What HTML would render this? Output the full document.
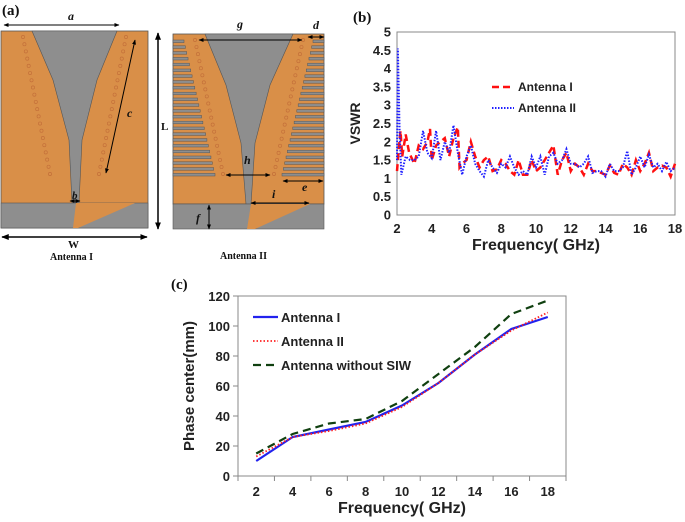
<!DOCTYPE html>
<html><head><meta charset="utf-8"><style>
body{margin:0;background:#fff;width:685px;height:522px;overflow:hidden}
svg{display:block}
.t{font-family:"Liberation Sans",sans-serif;font-weight:bold;fill:#222}
.s{font-family:"Liberation Serif",serif;font-weight:bold;fill:#111}
</style></head><body>
<svg id="svg" width="685" height="522" xmlns="http://www.w3.org/2000/svg">
<defs><marker id="ar" viewBox="0 0 10 10" refX="9" refY="5" markerWidth="5" markerHeight="5" orient="auto-start-reverse"><path d="M0,1L10,5L0,9z" fill="#000"/></marker></defs>
<g id="panelA">
<text class="s" x="2" y="15" font-size="15">(a)</text>
<g>
<rect x="1" y="31" width="147" height="197" fill="#d98f48" stroke="#555" stroke-width="0.8"/>
<polygon points="32,31 117,31 97,80 82,140 79,203 72,203 69,140 53,80" fill="#8e8e8e" stroke="#555" stroke-width="0.6"/>
<rect x="1" y="203" width="147" height="25" fill="#8e8e8e" stroke="#555" stroke-width="0.6"/>
<polygon points="76,203 135,203 78,228 73,228" fill="#d98f48"/>
<g id="viasI"></g>
<line x1="4" y1="25" x2="119" y2="25" stroke="#000" marker-start="url(#ar)" marker-end="url(#ar)"/>
<line x1="135" y1="40" x2="106" y2="173" stroke="#000" marker-start="url(#ar)" marker-end="url(#ar)"/>
<line x1="158" y1="33" x2="158" y2="229" stroke="#000" stroke-width="1.5" marker-start="url(#ar)" marker-end="url(#ar)"/>
<line x1="2" y1="237" x2="147" y2="237" stroke="#000" stroke-width="1.5" marker-start="url(#ar)" marker-end="url(#ar)"/>
<line x1="70" y1="201" x2="80" y2="201" stroke="#000" marker-start="url(#ar)" marker-end="url(#ar)"/>
<text class="s" x="68" y="20" font-size="12" font-style="italic">a</text>
<text class="s" x="127" y="117" font-size="12" font-style="italic">c</text>
<text class="s" x="72" y="199" font-size="11" font-style="italic">b</text>
<text class="s" x="161" y="130" font-size="11" font-weight="normal">L</text>
<text class="s" x="68" y="248" font-size="11" font-weight="normal">W</text>
<text class="s" x="50" y="260" font-size="10">Antenna I</text>
</g>
<g>
<rect x="173" y="34" width="151" height="170" fill="#d98f48" stroke="#555" stroke-width="0.8"/>
<polygon points="205,34 293,34 270,85 255,143 251,204 246,204 241,143 226,85" fill="#8e8e8e" stroke="#555" stroke-width="0.6"/>
<rect x="173" y="204" width="151" height="25" fill="#8e8e8e" stroke="#555" stroke-width="0.6"/>
<polygon points="251,204 310,204 255,229 247,229" fill="#d98f48"/>
<g id="slots"></g><g id="viasII"></g>
<line x1="199" y1="40" x2="302" y2="40" stroke="#000" marker-start="url(#ar)" marker-end="url(#ar)"/>
<line x1="308" y1="37" x2="324" y2="37" stroke="#000" marker-start="url(#ar)" marker-end="url(#ar)"/>
<line x1="226" y1="175" x2="270" y2="175" stroke="#000" marker-start="url(#ar)" marker-end="url(#ar)"/>
<line x1="283" y1="181" x2="323" y2="181" stroke="#000" marker-start="url(#ar)" marker-end="url(#ar)"/>
<line x1="251" y1="203" x2="309" y2="203" stroke="#000" marker-start="url(#ar)" marker-end="url(#ar)"/>
<line x1="209" y1="205" x2="209" y2="229" stroke="#000" marker-start="url(#ar)" marker-end="url(#ar)"/>
<text class="s" x="237" y="28" font-size="12" font-style="italic">g</text>
<text class="s" x="313" y="29" font-size="12" font-style="italic">d</text>
<text class="s" x="244" y="164" font-size="12" font-style="italic">h</text>
<text class="s" x="302" y="191" font-size="12" font-style="italic">e</text>
<text class="s" x="272" y="198" font-size="12" font-style="italic">i</text>
<text class="s" x="196" y="222" font-size="12" font-style="italic">f</text>
<text class="s" x="220" y="259" font-size="10">Antenna II</text>
</g>
</g>
<g id="panelB">
<text class="s" x="353" y="22" font-size="15">(b)</text>
</g>
<g id="panelC">
<text class="s" x="171" y="289" font-size="15">(c)</text>
</g>
</svg>
<script>
const NS="http://www.w3.org/2000/svg";
function mk(p,tag,attrs,txt){const e=document.createElementNS(NS,tag);for(const k in attrs)e.setAttribute(k,attrs[k]);if(txt!==undefined)e.textContent=txt;p.appendChild(e);return e;}
// antenna decorations
const vI=document.getElementById('viasI');
for(let i=0;i<20;i++){const t=i/19;mk(vI,'circle',{cx:23+27*t,cy:37+137*t,r:1.6,fill:'none',stroke:'#c4703a','stroke-width':0.7});mk(vI,'circle',{cx:126-27*t,cy:37+137*t,r:1.6,fill:'none',stroke:'#c4703a','stroke-width':0.7});}
const vII=document.getElementById('viasII'),sl=document.getElementById('slots');
for(let i=0;i<20;i++){const t=i/19;mk(vII,'circle',{cx:195+28*t,cy:40+134*t,r:1.6,fill:'none',stroke:'#c4703a','stroke-width':0.7});mk(vII,'circle',{cx:303-29*t,cy:40+134*t,r:1.6,fill:'none',stroke:'#c4703a','stroke-width':0.7});}
for(let i=0;i<24;i++){const t=i/23,y=40+i*5.8,L=11+31*t;mk(sl,'rect',{x:173,y:y,width:L,height:2.6,fill:'#8e8e8e',stroke:'#555','stroke-width':0.5});mk(sl,'rect',{x:324-L,y:y,width:L,height:2.6,fill:'#8e8e8e',stroke:'#555','stroke-width':0.5});}

// ---- VSWR data ----
const vswrFreqI=[2,2.1,2.2,2.3,2.5,2.7,3,3.25,3.5,3.75,3.9,4,4.25,4.5,4.75,5,5.25,5.5,5.6,5.75,6,6.25,6.5,6.75,7,7.25,7.5,7.75,8,8.25,8.5,8.75,9,9.25,9.5,9.75,10,10.25,10.5,10.75,11,11.25,11.5,11.75,12,12.25,12.5,12.75,13,13.25,13.5,13.75,14,14.25,14.5,14.75,15,15.25,15.5,15.75,16,16.25,16.5,16.75,17,17.25,17.5,17.75,18];
const vswrI=[1.2,1.8,2.3,1.6,2.2,1.7,1.4,1.9,1.8,2.0,2.35,1.5,1.9,2.0,2.1,1.6,2.1,2.4,1.3,1.4,1.5,2.0,1.6,1.3,1.5,1.6,1.2,1.25,1.5,1.4,1.2,1.1,1.5,1.1,1.1,1.5,1.2,1.3,1.5,1.7,1.9,1.1,1.5,1.7,1.2,1.4,1.3,1.1,1.4,1.2,1.2,1.15,1.1,1.35,1.15,1.1,1.4,1.3,1.1,1.5,1.2,1.4,1.7,1.2,1.3,1.35,1.3,1.05,1.4];
const vswrFreqII=[2,2.05,2.15,2.25,2.5,2.75,3,3.25,3.5,3.75,4,4.25,4.5,4.75,5,5.25,5.5,5.75,6,6.25,6.5,6.75,7,7.25,7.5,7.75,8,8.25,8.5,8.75,9,9.25,9.5,9.75,10,10.25,10.5,10.75,11,11.25,11.5,11.75,12,12.25,12.5,12.75,13,13.25,13.5,13.75,14,14.25,14.5,14.75,15,15.25,15.5,15.75,16,16.25,16.5,16.75,17,17.25,17.5,17.75,18];
const vswrII=[1.5,4.55,2.3,1.1,1.6,1.5,1.5,1.6,2.3,1.7,1.55,2.3,1.5,2.0,1.7,2.45,1.7,1.1,1.6,1.9,1.4,1.2,1.05,1.5,1.3,1.15,1.4,1.3,1.6,1.3,1.1,1.2,1.1,1.6,1.3,1.6,1.1,1.6,1.7,1.4,1.5,1.8,1.4,1.4,1.3,1.4,1.6,1.15,1.2,1.2,1.05,1.4,1.2,1.2,1.3,1.75,1.1,1.3,1.6,1.3,1.65,1.3,1.4,1.2,1.45,1.2,1.3];
const vswrXTicks=[2,4,6,8,10,12,14,16,18];
const vswrYTicks=[0,0.5,1,1.5,2,2.5,3,3.5,4,4.5,5];
// ---- Phase center data ----
const pcCats=[2,4,6,8,10,12,14,16,18];
const pcI=[10,26,31,36,47,62,81,98,106];
const pcII=[13,26,30,35,46,62,81,97,109];
const pcNoSIW=[15,28,35,38,50,68,86,108,117];
const pcYTicks=[0,20,40,60,80,100,120];

// panel b
(function(){
const g=document.getElementById('panelB');
const L=397,R=675,T=32,B=215;
const xs=v=>L+(v-2)/16*(R-L), ys=v=>B-v/5*(B-T);
const box=mk(g,'rect',{x:L,y:T,width:R-L,height:B-T,fill:'none',stroke:'#888','stroke-width':1});

vswrYTicks.forEach(v=>{const t=mk(g,'text',{x:L-6,y:ys(v)+4.5,'text-anchor':'end','font-size':13,class:'t'},String(v));});
vswrXTicks.forEach(v=>{const t=mk(g,'text',{x:xs(v),y:B+18,'text-anchor':'middle','font-size':13,class:'t'},String(v));});
let t=mk(g,'text',{x:(L+R)/2,y:250,'text-anchor':'middle','font-size':16,class:'t'},'Frequency( GHz)');
t=mk(g,'text',{x:0,y:0,transform:`translate(360,${(T+B)/2}) rotate(-90)`,'text-anchor':'middle','font-size':14,class:'t'},'VSWR');
let p=mk(g,'polyline',{points:vswrFreqI.map((f,i)=>xs(f)+','+ys(vswrI[i])).join(' '),fill:'none',stroke:'#ff1010','stroke-width':2.5,'stroke-dasharray':'7,4'});
p=mk(g,'polyline',{points:vswrFreqII.map((f,i)=>xs(f)+','+ys(vswrII[i])).join(' '),fill:'none',stroke:'#2020ff','stroke-width':2,'stroke-dasharray':'1.5,1.5'});
const lg=mk(g,'g',{});
mk(lg,'line',{x1:492,y1:87,x2:514,y2:87,stroke:'#ff1010','stroke-width':2.5,'stroke-dasharray':'7,4'});
mk(lg,'text',{x:518,y:91,'font-size':12,class:'t'},'Antenna I');
mk(lg,'line',{x1:492,y1:108,x2:514,y2:108,stroke:'#2020ff','stroke-width':2,'stroke-dasharray':'1.5,1.5'});
mk(lg,'text',{x:518,y:112,'font-size':12,class:'t'},'Antenna II');
})();

// panel c
(function(){
const g=document.getElementById('panelC');
const L=238,R=566,T=296,B=476;
const step=(R-L)/pcCats.length;
const xs=i=>L+step*(i+0.5), ys=v=>B-v/120*(B-T);
const box=mk(g,'rect',{x:L,y:T,width:R-L,height:B-T,fill:'none',stroke:'#888','stroke-width':1});

for(let i=0;i<=pcCats.length;i++)mk(g,'line',{x1:L+step*i,y1:B,x2:L+step*i,y2:B+5,stroke:'#888'});
pcYTicks.forEach(v=>{mk(g,'line',{x1:L-5,y1:ys(v),x2:L,y2:ys(v),stroke:'#888'});const t=mk(g,'text',{x:L-8,y:ys(v)+5,'text-anchor':'end','font-size':13,class:'t'},String(v));});
pcCats.forEach((c,i)=>{const t=mk(g,'text',{x:xs(i),y:B+20,'text-anchor':'middle','font-size':13,class:'t'},String(c));});
let t=mk(g,'text',{x:(L+R)/2,y:513,'text-anchor':'middle','font-size':16,class:'t'},'Frequency( GHz)');
t=mk(g,'text',{x:0,y:0,transform:`translate(194,${(T+B)/2}) rotate(-90)`,'text-anchor':'middle','font-size':15,class:'t'},'Phase center(mm)');
let p=mk(g,'polyline',{points:pcNoSIW.map((v,i)=>xs(i)+','+ys(v)).join(' '),fill:'none',stroke:'#104010','stroke-width':2.2,'stroke-dasharray':'8,5'});
p=mk(g,'polyline',{points:pcI.map((v,i)=>xs(i)+','+ys(v)).join(' '),fill:'none',stroke:'#2222ee','stroke-width':2.2});
p=mk(g,'polyline',{points:pcII.map((v,i)=>xs(i)+','+ys(v)).join(' '),fill:'none',stroke:'#ff2020','stroke-width':1.8,'stroke-dasharray':'1.5,2'});
const lg=mk(g,'g',{});
mk(lg,'line',{x1:253,y1:317,x2:278,y2:317,stroke:'#2222ee','stroke-width':2.2});
mk(lg,'text',{x:281,y:322,'font-size':13,class:'t'},'Antenna I');
mk(lg,'line',{x1:253,y1:341,x2:278,y2:341,stroke:'#ff2020','stroke-width':1.8,'stroke-dasharray':'1.5,2'});
mk(lg,'text',{x:281,y:346,'font-size':13,class:'t'},'Antenna II');
mk(lg,'line',{x1:253,y1:365,x2:278,y2:365,stroke:'#104010','stroke-width':2.2,'stroke-dasharray':'8,5'});
mk(lg,'text',{x:281,y:370,'font-size':13,class:'t'},'Antenna without SIW');
})();
</script>
</body></html>
